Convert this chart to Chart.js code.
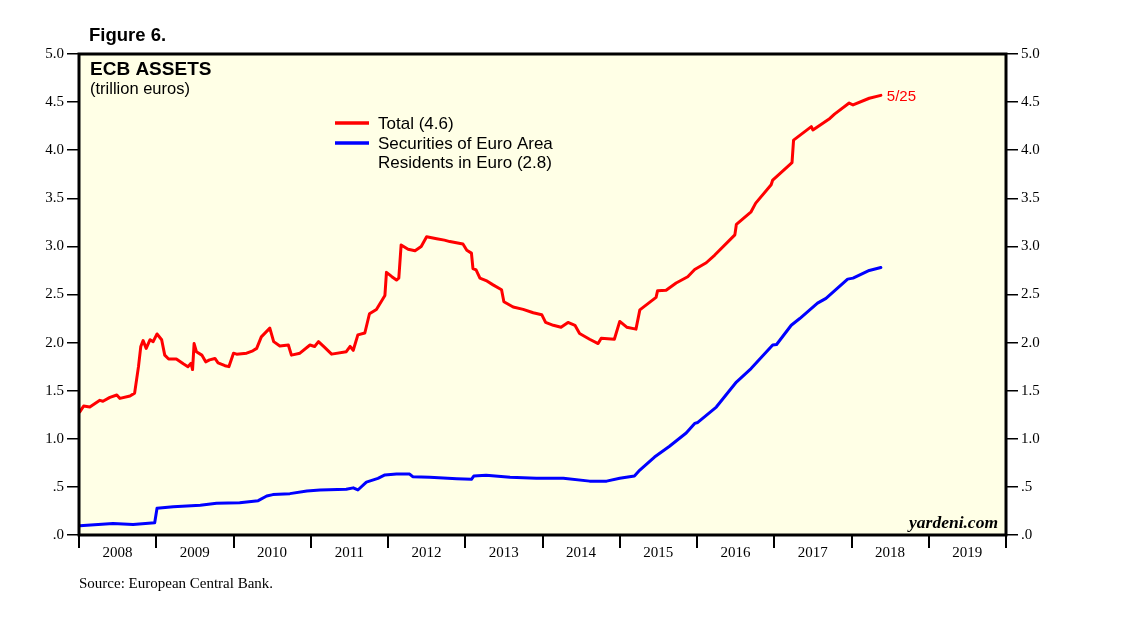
<!DOCTYPE html>
<html>
<head>
<meta charset="utf-8">
<title>ECB Assets</title>
<script src="https://cdn.jsdelivr.net/npm/chart.js@4.4.1/dist/chart.umd.min.js"></script>
<style>
    body { margin: 0; background: #ffffff; }
    #wrap { width: 1138px; height: 621px; position: relative; }
</style>
</head>
<body>
<div id="wrap"><canvas id="ecbChart"></canvas></div>
<script>
    // Total assets (trillion euros)
    const totalDates = [
        2008.01, 2008.06, 2008.14, 2008.27, 2008.31, 2008.40, 2008.49, 2008.53, 2008.66, 2008.72,
        2008.77, 2008.80, 2008.83, 2008.87, 2008.92, 2008.96, 2009.01, 2009.07, 2009.11, 2009.16,
        2009.26, 2009.35, 2009.41, 2009.45, 2009.47, 2009.49, 2009.52, 2009.59, 2009.64, 2009.69,
        2009.76, 2009.80, 2009.89, 2009.94, 2010.00, 2010.04, 2010.17, 2010.25, 2010.30, 2010.36,
        2010.47, 2010.52, 2010.60, 2010.71, 2010.75, 2010.86, 2010.99, 2011.05, 2011.10, 2011.18,
        2011.27, 2011.46, 2011.51, 2011.55, 2011.61, 2011.70, 2011.76, 2011.85, 2011.96, 2011.98,
        2012.05, 2012.11, 2012.14, 2012.17, 2012.26, 2012.35, 2012.43, 2012.50, 2012.63, 2012.73,
        2012.80, 2012.97, 2013.02, 2013.08, 2013.10, 2013.14, 2013.19, 2013.27, 2013.36, 2013.47,
        2013.50, 2013.62, 2013.75, 2013.88, 2013.99, 2014.04, 2014.14, 2014.24, 2014.33, 2014.42,
        2014.48, 2014.61, 2014.72, 2014.76, 2014.93, 2015.00, 2015.09, 2015.21, 2015.26, 2015.47,
        2015.49, 2015.60, 2015.73, 2015.88, 2015.97, 2016.12, 2016.23, 2016.49, 2016.51, 2016.70,
        2016.76, 2016.96, 2016.98, 2017.23, 2017.25, 2017.48, 2017.50, 2017.72, 2017.78, 2017.97,
        2018.02, 2018.23, 2018.38
    ];
    const totalValues = [
        1.28, 1.34, 1.33, 1.40, 1.39, 1.43, 1.455, 1.42, 1.445, 1.475,
        1.75, 1.96, 2.02, 1.94, 2.03, 2.01, 2.09, 2.03, 1.87, 1.83,
        1.83, 1.78, 1.75, 1.785, 1.72, 1.99, 1.905, 1.87, 1.80, 1.82,
        1.835, 1.79, 1.76, 1.75, 1.89, 1.88, 1.89, 1.915, 1.94, 2.06,
        2.15, 2.01, 1.965, 1.975, 1.87, 1.89, 1.975, 1.96, 2.01, 1.95,
        1.88, 1.905, 1.96, 1.92, 2.08, 2.10, 2.30, 2.345, 2.49, 2.73,
        2.685, 2.65, 2.67, 3.015, 2.97, 2.955, 3.00, 3.10, 3.08, 3.065,
        3.05, 3.025, 2.96, 2.93, 2.77, 2.755, 2.67, 2.645, 2.60, 2.55,
        2.425, 2.37, 2.345, 2.31, 2.29, 2.21, 2.18, 2.16, 2.21, 2.18,
        2.095, 2.035, 1.99, 2.045, 2.035, 2.22, 2.16, 2.14, 2.34, 2.47,
        2.54, 2.545, 2.62, 2.685, 2.76, 2.83, 2.91, 3.12, 3.23, 3.36,
        3.45, 3.64, 3.69, 3.87, 4.105, 4.245, 4.21, 4.33, 4.375, 4.49,
        4.47, 4.54, 4.57
    ];

    // Securities of euro area residents in euro (trillion euros)
    const securitiesDates = [
        2008.01, 2008.44, 2008.70, 2008.98, 2009.01, 2009.22, 2009.57, 2009.78, 2010.08, 2010.32,
        2010.43, 2010.51, 2010.73, 2010.95, 2011.12, 2011.46, 2011.55, 2011.61, 2011.72, 2011.87,
        2011.96, 2012.11, 2012.28, 2012.32, 2012.54, 2012.89, 2013.08, 2013.11, 2013.27, 2013.58,
        2013.92, 2014.27, 2014.61, 2014.83, 2015.00, 2015.19, 2015.26, 2015.45, 2015.64, 2015.86,
        2015.97, 2016.01, 2016.25, 2016.51, 2016.70, 2016.98, 2017.03, 2017.22, 2017.33, 2017.56,
        2017.67, 2017.95, 2018.02, 2018.23, 2018.38
    ];
    const securitiesValues = [
        0.097, 0.12, 0.11, 0.128, 0.277, 0.294, 0.31, 0.33, 0.336, 0.357,
        0.405, 0.42, 0.43, 0.457, 0.468, 0.475, 0.49, 0.468, 0.55, 0.589,
        0.624, 0.634, 0.634, 0.606, 0.60, 0.585, 0.579, 0.613, 0.62, 0.60,
        0.59, 0.59, 0.56, 0.56, 0.59, 0.613, 0.675, 0.81, 0.92, 1.06,
        1.16, 1.17, 1.33, 1.59, 1.73, 1.975, 1.98, 2.18, 2.25, 2.41,
        2.46, 2.66, 2.67, 2.75, 2.78
    ];

    const yearTicks = [2008, 2009, 2010, 2011, 2012, 2013, 2014, 2015, 2016, 2017, 2018, 2019, 2020];
    const valueTicks = [0, 0.5, 1, 1.5, 2, 2.5, 3, 3.5, 4, 4.5, 5];

    function toPoints(xs, ys) {
        return xs.map((x, i) => ({ x: x, y: ys[i] }));
    }

    function valueLabel(v) {
        if (v === 0) return '.0';
        if (v === 0.5) return '.5';
        return v.toFixed(1);
    }

    const serif = '"Liberation Serif", "Times New Roman", serif';
    const sans = '"Liberation Sans", Arial, sans-serif';

    // background, frame and all the text drawn on the canvas
    const decorPlugin = {
        id: 'decor',
        beforeDraw(chart) {
            const ctx = chart.ctx;
            const a = chart.chartArea;
            ctx.save();
            ctx.fillStyle = '#ffffff';
            ctx.fillRect(0, 0, chart.width, chart.height);
            ctx.fillStyle = '#ffffe6';
            ctx.fillRect(a.left, a.top, a.right - a.left, a.bottom - a.top);
            ctx.restore();
        },
        afterDraw(chart) {
            const ctx = chart.ctx;
            const a = chart.chartArea;
            ctx.save();
            ctx.strokeStyle = '#000000';
            ctx.lineWidth = 3;
            ctx.strokeRect(a.left, a.top, a.right - a.left, a.bottom - a.top);

            ctx.fillStyle = '#000000';
            ctx.textBaseline = 'alphabetic';
            ctx.textAlign = 'left';
            ctx.font = 'bold 18.5px ' + sans;
            ctx.fillText('Figure 6.', 89, 41);
            ctx.font = 'bold 19px ' + sans;
            ctx.fillText('ECB ASSETS', 90, 75);
            ctx.font = '16.5px ' + sans;
            ctx.fillText('(trillion euros)', 90, 94);

            // legend
            ctx.lineWidth = 3.5;
            ctx.strokeStyle = 'rgb(255,0,0)';
            ctx.beginPath(); ctx.moveTo(335, 123); ctx.lineTo(369, 123); ctx.stroke();
            ctx.strokeStyle = 'rgb(0,0,255)';
            ctx.beginPath(); ctx.moveTo(335, 143); ctx.lineTo(369, 143); ctx.stroke();
            ctx.font = '17px ' + sans;
            ctx.fillText('Total (4.6)', 378, 129);
            ctx.fillText('Securities of Euro Area', 378, 149);
            ctx.fillText('Residents in Euro (2.8)', 378, 168);

            // end label on the total line
            const xs = chart.scales.x, ys = chart.scales.y;
            const lastX = xs.getPixelForValue(totalDates[totalDates.length - 1]);
            const lastY = ys.getPixelForValue(totalValues[totalValues.length - 1]);
            ctx.fillStyle = 'rgb(255,0,0)';
            ctx.font = '15px ' + sans;
            ctx.fillText('5/25', lastX + 6, lastY + 6);

            ctx.fillStyle = '#000000';
            ctx.textAlign = 'right';
            ctx.font = 'italic bold 17.5px ' + serif;
            ctx.fillText('yardeni.com', a.right - 8, a.bottom - 7);

            ctx.textAlign = 'left';
            ctx.font = '15px ' + serif;
            ctx.fillText('Source: European Central Bank.', 79, 588);
            ctx.restore();
        }
    };

    const yAxisCommon = {
        type: 'linear',
        min: 0,
        max: 5,
        afterBuildTicks: axis => { axis.ticks = valueTicks.map(v => ({ value: v })); },
        border: { display: false },
        grid: {
            drawOnChartArea: false,
            drawTicks: true,
            tickLength: 12,
            color: '#000000',
            lineWidth: 1.5
        },
        ticks: {
            padding: 3,
            color: '#000000',
            font: { family: serif, size: 15 },
            callback: value => valueLabel(value)
        }
    };

    const ctx = document.getElementById('ecbChart').getContext('2d');
    new Chart(ctx, {
        type: 'line',
        data: {
            datasets: [
                {
                    label: 'Total (4.6)',
                    data: toPoints(totalDates, totalValues),
                    borderColor: 'rgb(255,0,0)',
                    borderWidth: 3,
                    borderJoinStyle: 'round',
                    borderCapStyle: 'round',
                    pointRadius: 0,
                    tension: 0,
                    yAxisID: 'y'
                },
                {
                    label: 'Securities of Euro Area Residents in Euro (2.8)',
                    data: toPoints(securitiesDates, securitiesValues),
                    borderColor: 'rgb(0,0,255)',
                    borderWidth: 3,
                    borderJoinStyle: 'round',
                    borderCapStyle: 'round',
                    pointRadius: 0,
                    tension: 0,
                    yAxisID: 'y'
                }
            ]
        },
        options: {
            responsive: true,
            maintainAspectRatio: false,
            animation: false,
            layout: { padding: { left: 0, right: 62, top: 54, bottom: 56 } },
            plugins: {
                legend: { display: false },
                tooltip: { enabled: false }
            },
            scales: {
                x: {
                    type: 'linear',
                    min: 2008,
                    max: 2020,
                    afterBuildTicks: axis => { axis.ticks = yearTicks.map(v => ({ value: v })); },
                    afterFit: scale => { scale.height = 30; },
                    border: { display: false },
                    grid: {
                        drawOnChartArea: false,
                        tickLength: 13,
                        color: '#000000',
                        lineWidth: 2
                    },
                    ticks: {
                        padding: -4,
                        labelOffset: 38.6,
                        autoSkip: false,
                        maxRotation: 0,
                        color: '#000000',
                        font: { family: serif, size: 15 },
                        callback: value => (value < 2020 ? String(value) : '')
                    }
                },
                y: Object.assign({}, yAxisCommon, {
                    position: 'left',
                    afterFit: scale => { scale.width = 79; }
                }),
                y2: Object.assign({}, yAxisCommon, {
                    position: 'right',
                    afterFit: scale => { scale.width = 70; }
                })
            }
        },
        plugins: [decorPlugin]
    });
</script>
</body>
</html>
